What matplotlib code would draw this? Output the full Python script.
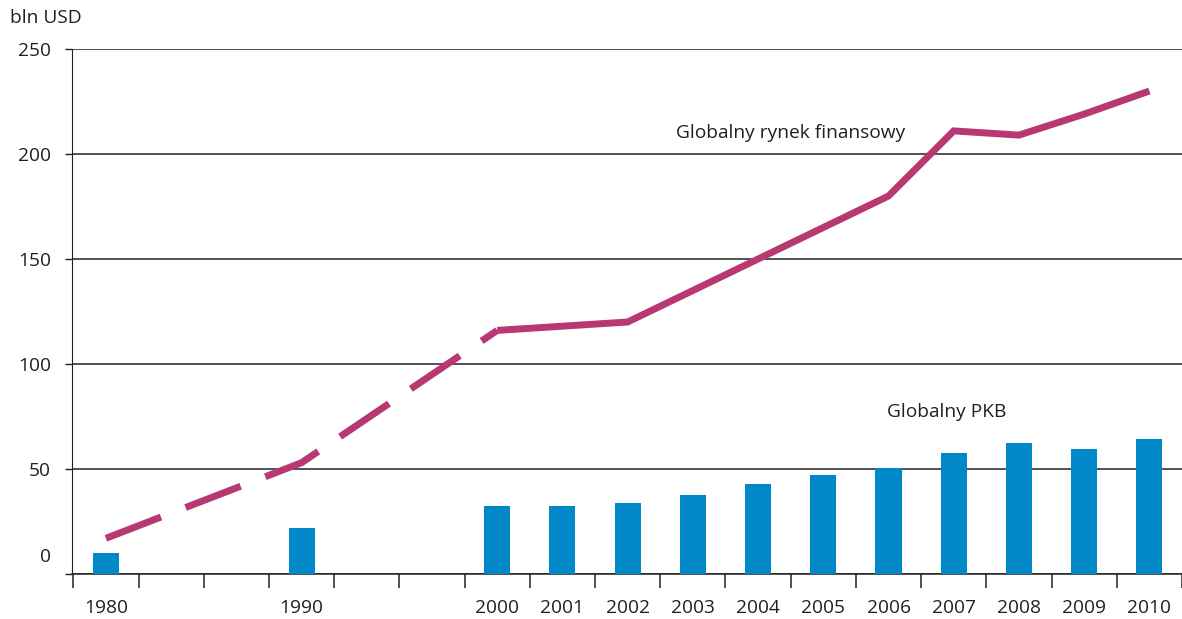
import matplotlib
matplotlib.use("Agg")
import matplotlib.pyplot as plt
import matplotlib.transforms as mtransforms

plt.rcParams['font.family'] = ['Open Sans', 'DejaVu Sans']

# category slots on the x axis (blank slots keep the 1980-1990-2000 spacing)
slots = ['1980', '', '', '1990', '', '', '2000', '2001', '2002', '2003',
         '2004', '2005', '2006', '2007', '2008', '2009', '2010']

# Globalny PKB (bars)
gdp_slots = [0, 3, 6, 7, 8, 9, 10, 11, 12, 13, 14, 15, 16]
gdp = [10, 22, 32.5, 32.5, 34, 37.5, 43, 47, 50.5, 57.5, 62.5, 59.5, 64.5]

# Globalny rynek finansowy (line), dashed up to 2000
fin_dash_slots = [0, 3, 6]
fin_dash = [17, 53, 116]
fin_slots = [6, 7, 8, 9, 10, 11, 12, 13, 14, 15, 16]
fin = [116, 118, 120, 135, 150, 165, 180, 211, 209, 219, 230]

text_col = '#231f20'
bar_col = '#0088c9'
line_col = '#b73873'
fs = 13.8

fig = plt.figure(figsize=(11.82, 6.19), dpi=100)
ax = fig.add_axes([72 / 1182, 1 - 574 / 619, 1 - 72 / 1182, (574 - 49) / 619])

ax.bar(gdp_slots, gdp, width=0.4, color=bar_col, zorder=3)
ax.plot(fin_dash_slots, fin_dash, color=line_col, lw=5, zorder=4,
        linestyle=(0, (8.5, 3.8)), dash_capstyle='butt')
ax.plot(fin_slots, fin, color=line_col, lw=5, zorder=4,
        solid_capstyle='butt', solid_joinstyle='miter')

ax.set_xlim(-0.52, 16.5)
ax.set_ylim(0, 250)

ax.set_yticks([0, 50, 100, 150, 200, 250])
ax.yaxis.grid(True, color='#222222', lw=1.1, zorder=1)
ax.tick_params(axis='y', length=5, width=1, color='#222222', pad=10,
               labelsize=fs, labelcolor=text_col)
# the zero label sits above the baseline
zero = ax.yaxis.get_major_ticks()[0].label1
zero.set_transform(zero.get_transform() +
                   mtransforms.ScaledTranslation(0, 0.19, fig.dpi_scale_trans))

ax.set_xticks(range(len(slots)))
ax.set_xticklabels(slots)
ax.set_xticks([i - 0.5 for i in range(len(slots) + 1)], minor=True)
ax.tick_params(axis='x', which='major', length=0, pad=18,
               labelsize=fs, labelcolor=text_col)
ax.tick_params(axis='x', which='minor', length=10, width=1.1, color='#222222')

for side in ['top', 'right']:
    ax.spines[side].set_visible(False)
ax.spines['left'].set_color('#222222')
ax.spines['bottom'].set_color('#222222')
ax.spines['bottom'].set_linewidth(1.1)
ax.set_axisbelow(True)

fig.text(10 / 1182, 1 - 18 / 619, 'bln USD', fontsize=fs, color=text_col,
         ha='left', va='center')
ax.text(12.26, 210, 'Globalny rynek finansowy', fontsize=fs, color=text_col,
        ha='right', va='center')
ax.text(12.89, 77, 'Globalny PKB', fontsize=fs, color=text_col,
        ha='center', va='center')

fig.savefig('out.png', dpi=100)
